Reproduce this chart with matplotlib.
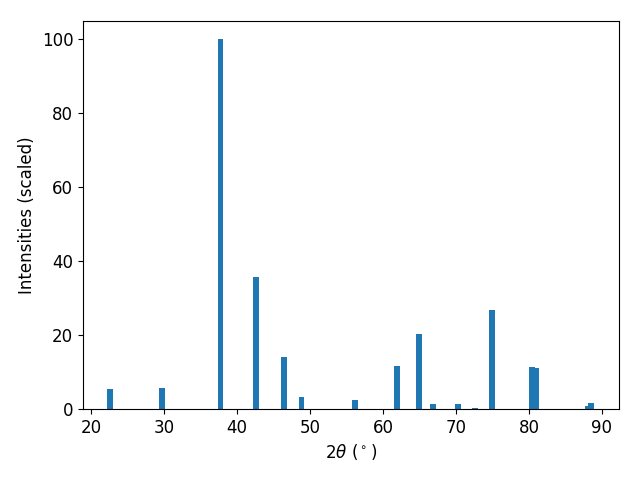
import matplotlib
matplotlib.use("Agg")
import matplotlib.pyplot as plt

# peak positions (2theta) and scaled intensities
two_theta = [22.60, 29.73, 37.74, 42.60, 46.44, 48.84, 56.16, 61.92, 64.93,
             66.85, 70.27, 72.6, 74.93, 80.4, 80.96, 88.08, 88.49]
intensity = [5.4, 5.7, 100.0, 35.8, 14.1, 3.25, 2.5, 11.65, 20.3,
             1.4, 1.4, 0.35, 26.8, 11.4, 11.1, 0.8, 1.6]

plt.rcParams['font.size'] = 12

fig = plt.figure(figsize=(6.4, 4.8), dpi=100)
plt.bar(two_theta, intensity, width=0.8)
plt.xlim(18.9, 92.33)
plt.xlabel(r'2$\theta$ ($^\circ$)')
plt.ylabel('Intensities (scaled)')
plt.subplots_adjust(left=83/640, right=619/640, top=1-21/480, bottom=1-409/480)
plt.savefig('out.png')
